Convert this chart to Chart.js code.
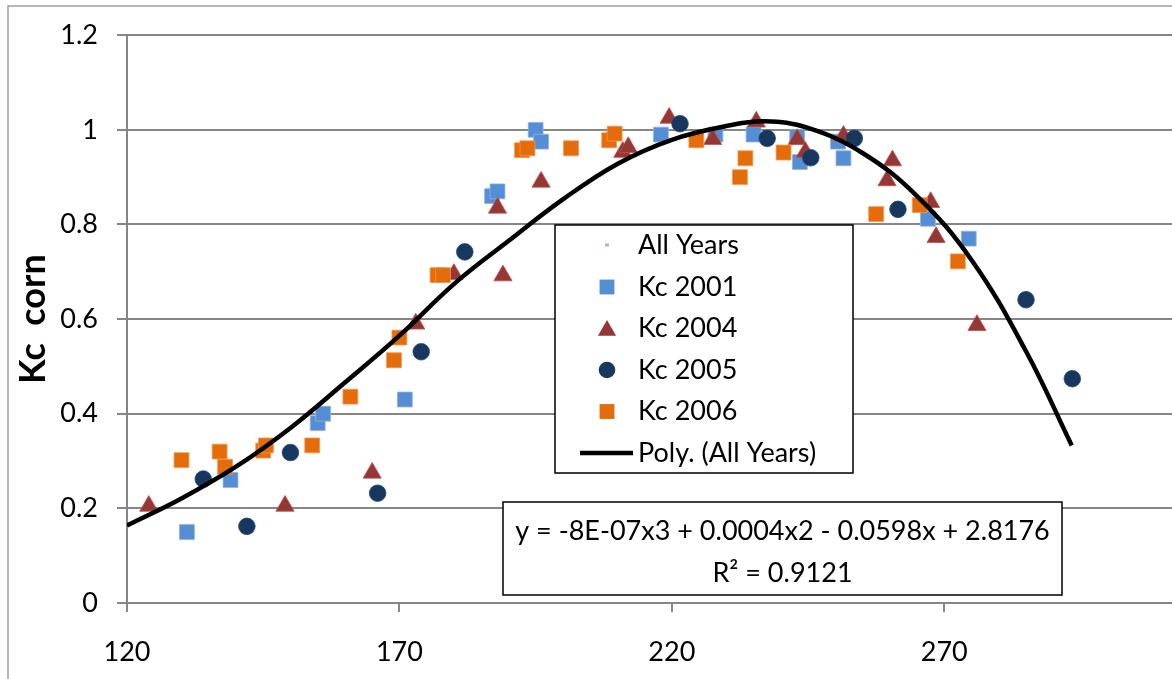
<!DOCTYPE html>
<html>
<head>
<meta charset="utf-8">
<title>Kc corn</title>
<script src="https://cdn.jsdelivr.net/npm/chart.js@4/dist/chart.umd.min.js"></script>
<style>
  html, body { margin: 0; padding: 0; background: #fff; overflow: hidden; }
  canvas { display: block; }
</style>
</head>
<body>
<canvas id="chart" width="1172" height="679"></canvas>
<script>
// day of year / Kc values
const days2001 = [131, 139, 155, 156, 171, 187, 188, 195, 196, 218, 228, 235, 243, 243.5, 250.5, 251.5, 267, 274.5]
const kc2001 = [0.15, 0.26, 0.38, 0.40, 0.43, 0.86, 0.87, 1.00, 0.975, 0.99, 0.99, 0.99, 0.985, 0.932, 0.975, 0.94, 0.812, 0.77]

const days2004 = [124, 149, 165, 173, 180, 188, 189, 196, 211, 212, 219.5, 227.5, 235.5, 243, 244.5, 251.5, 259.5, 260.5, 267.5, 268.5, 276]
const kc2004 = [0.205, 0.205, 0.275, 0.59, 0.695, 0.835, 0.692, 0.89, 0.953, 0.963, 1.025, 0.98, 1.017, 0.98, 0.953, 0.987, 0.893, 0.935, 0.847, 0.773, 0.587]

const days2005 = [134, 142, 150, 166, 174, 182, 221.5, 237.5, 245.5, 253.5, 261.5, 285, 293.5]
const kc2005 = [0.262, 0.162, 0.318, 0.232, 0.531, 0.742, 1.013, 0.982, 0.941, 0.982, 0.832, 0.641, 0.474]

const days2006 = [130, 137, 138, 145, 145.5, 154, 161, 169, 170, 177, 178, 192.5, 193.5, 201.5, 208.5, 209.5, 224.5, 232.5, 233.5, 240.5, 257.5, 265.5, 272.5]
const kc2006 = [0.302, 0.32, 0.288, 0.322, 0.333, 0.333, 0.436, 0.513, 0.561, 0.693, 0.693, 0.957, 0.961, 0.961, 0.978, 0.992, 0.978, 0.90, 0.94, 0.952, 0.822, 0.841, 0.722]

// trendline as traced on the figure
const polyDays = [120, 130, 140, 150, 160, 170, 180, 190, 200, 210, 220, 230, 237, 245, 255, 265, 275, 285, 293.4]
const polyKc = [0.164, 0.221, 0.288, 0.370, 0.466, 0.565, 0.674, 0.765, 0.853, 0.928, 0.979, 1.008, 1.018, 1.004, 0.951, 0.86, 0.725, 0.532, 0.333]

const xTicks = [120, 170, 220, 270]
const yTicks = [0, 0.2, 0.4, 0.6, 0.8, 1, 1.2]

const equationText = "y = -8E-07x3 + 0.0004x2 - 0.0598x + 2.8176"
const r2Text = "R² = 0.9121"

const FONT = 'Lato, "Liberation Sans", sans-serif'
const GRID = '#868686'

const toPoints = (xs, ys) => xs.map((x, i) => ({ x: x, y: ys[i] }))

const allDays = [].concat(days2001, days2004, days2005, days2006)
const allKc = [].concat(kc2001, kc2004, kc2005, kc2006)

const series = [
  { label: "All Years", style: "rect", color: "#dba5a4", border: "#dba5a4", radius: 2.2, days: allDays, kc: allKc, order: 6 },
  { label: "Kc 2001", style: "rect", color: "#558ed5", border: "#8db3e2", radius: 10.5, days: days2001, kc: kc2001, order: 5 },
  { label: "Kc 2004", style: "triangle", color: "#953735", border: "#c0504d", radius: 10.5, days: days2004, kc: kc2004, order: 4 },
  { label: "Kc 2005", style: "circle", color: "#17375e", border: "#1f497d", radius: 8.3, days: days2005, kc: kc2005, order: 3 },
  { label: "Kc 2006", style: "rect", color: "#e46c0a", border: "#f79646", radius: 10.5, days: days2006, kc: kc2006, order: 2 }
]

const datasets = series.map(s => ({
  type: "scatter",
  label: s.label,
  data: toPoints(s.days, s.kc),
  pointStyle: s.style,
  pointRadius: s.radius,
  pointBackgroundColor: s.color,
  pointBorderColor: s.border,
  pointBorderWidth: s.radius > 3 ? 0.8 : 0,
  order: s.order
}))

datasets.push({
  type: "line",
  label: "Poly. (All Years)",
  data: toPoints(polyDays, polyKc),
  borderColor: "#000",
  borderWidth: 4.5,
  pointRadius: 0,
  tension: 0.4,
  fill: false,
  order: 1
})

// draws the frame, the legend box and the trendline equation box
const boxesPlugin = {
  id: "boxes",
  beforeDraw(chart) {
    const ctx = chart.ctx
    ctx.save()
    ctx.fillStyle = "#fff"
    ctx.fillRect(0, 0, chart.width, chart.height)
    ctx.strokeStyle = "#a0a0a0"
    ctx.lineWidth = 1.5
    ctx.beginPath()
    ctx.moveTo(8, chart.height)
    ctx.lineTo(8, 6)
    ctx.lineTo(chart.width, 6)
    ctx.stroke()
    ctx.restore()
  },
  afterDatasetsDraw(chart) {
    const ctx = chart.ctx
    ctx.save()

    // legend
    const lx = 555, ly = 225, lw = 298, lh = 248
    ctx.fillStyle = "#fff"
    ctx.fillRect(lx, ly, lw, lh)
    ctx.strokeStyle = "#000"
    ctx.lineWidth = 1.5
    ctx.strokeRect(lx, ly, lw, lh)

    ctx.font = "27px " + FONT
    ctx.textBaseline = "middle"
    ctx.textAlign = "left"
    const rowY = [245, 287, 328, 370, 411.5, 453]
    const mx = 607, tx = 638
    series.forEach((s, i) => {
      const y = rowY[i]
      ctx.fillStyle = s.color
      if (i === 0) {
        ctx.fillRect(mx - 2, y - 1.5, 4, 3)
      } else if (s.style === "circle") {
        ctx.beginPath()
        ctx.arc(mx, y, s.radius, 0, Math.PI * 2)
        ctx.fill()
      } else if (s.style === "triangle") {
        const r = s.radius
        ctx.beginPath()
        ctx.moveTo(mx, y - r + 2.5)
        ctx.lineTo(mx + r * 0.866, y + r / 2 + 2.5)
        ctx.lineTo(mx - r * 0.866, y + r / 2 + 2.5)
        ctx.closePath()
        ctx.fill()
      } else {
        const h = s.radius * Math.SQRT1_2
        ctx.fillRect(mx - h, y - h, 2 * h, 2 * h)
      }
      ctx.fillStyle = "#000"
      ctx.fillText(s.label, tx, y)
    })
    ctx.strokeStyle = "#000"
    ctx.lineWidth = 4.5
    ctx.beginPath()
    ctx.moveTo(580, rowY[5])
    ctx.lineTo(633, rowY[5])
    ctx.stroke()
    ctx.fillStyle = "#000"
    ctx.fillText("Poly. (All Years)", tx, rowY[5])

    // equation
    const ex = 503, ey = 502, ew = 559, eh = 93
    ctx.fillStyle = "#fff"
    ctx.fillRect(ex, ey, ew, eh)
    ctx.strokeStyle = "#000"
    ctx.lineWidth = 1.5
    ctx.strokeRect(ex, ey, ew, eh)
    ctx.fillStyle = "#000"
    ctx.textAlign = "center"
    ctx.fillText(equationText, ex + ew / 2, 531)
    ctx.fillText(r2Text, ex + ew / 2, 573)

    ctx.restore()
  }
}

new Chart(document.getElementById("chart"), {
  data: { datasets: datasets },
  plugins: [boxesPlugin],
  options: {
    responsive: false,
    animation: false,
    events: [],
    layout: { autoPadding: false, padding: { top: 33, right: 0, bottom: 0, left: 0 } },
    plugins: {
      legend: { display: false },
      tooltip: { enabled: false }
    },
    scales: {
      x: {
        type: "linear",
        min: 120,
        max: 311.8,
        afterBuildTicks: scale => { scale.ticks = xTicks.map(v => ({ value: v })) },
        afterFit: scale => { scale.height = 76 },
        grid: { drawOnChartArea: false, drawTicks: true, tickLength: 9, color: GRID, lineWidth: 2 },
        border: { display: true, color: GRID, width: 2 },
        ticks: { color: "#000", font: { family: FONT, size: 27 }, padding: 24, maxRotation: 0 }
      },
      y: {
        type: "linear",
        min: 0,
        max: 1.2,
        afterBuildTicks: scale => { scale.ticks = yTicks.map(v => ({ value: v })) },
        afterFit: scale => { scale.width = 127 },
        grid: { color: GRID, lineWidth: 2, drawTicks: true, tickLength: 10 },
        border: { display: true, color: GRID, width: 2 },
        ticks: {
          color: "#000",
          font: { family: FONT, size: 27 },
          padding: 19,
          callback: v => String(v)
        },
        title: {
          display: true,
          text: "Kc  corn",
          color: "#000",
          font: { family: FONT, size: 36, weight: "bold" },
          padding: { top: 12, bottom: 0 }
        }
      }
    }
  }
})
</script>
</body>
</html>
